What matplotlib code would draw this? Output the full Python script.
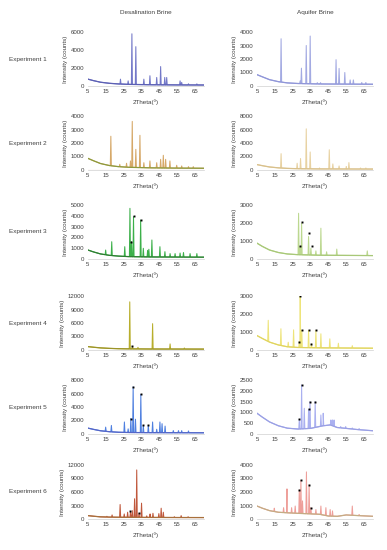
import numpy as np
import matplotlib
matplotlib.use("Agg")
import matplotlib.pyplot as plt

plt.rcParams['font.family'] = ['Liberation Sans', 'DejaVu Sans']

# column titles / row labels
col_titles = ["Desalination Brine", "Aquifer Brine"]
row_labels = ["Experiment 1", "Experiment 2", "Experiment 3",
              "Experiment 4", "Experiment 5", "Experiment 6"]
x_ticks = [5, 15, 25, 35, 45, 55, 65]

# y axis ticks for each panel (row, col)
y_ticks = {
    (0, 0): [0, 2000, 4000, 6000], (0, 1): [0, 1000, 2000, 3000, 4000],
    (1, 0): [0, 1000, 2000, 3000, 4000], (1, 1): [0, 2000, 4000, 6000, 8000],
    (2, 0): [0, 1000, 2000, 3000, 4000, 5000], (2, 1): [0, 1000, 2000, 3000],
    (3, 0): [0, 3000, 6000, 9000, 12000], (3, 1): [0, 1000, 2000, 3000],
    (4, 0): [0, 2000, 4000, 6000, 8000], (4, 1): [0, 500, 1000, 1500, 2000, 2500],
    (5, 0): [0, 3000, 6000, 9000, 12000], (5, 1): [0, 1000, 2000, 3000, 4000],
}

# background (baseline) knots: 2theta, counts
bg_x_std = [5, 8, 12, 17, 22, 28, 40, 55, 70]
bg = {
    (0, 0): (bg_x_std, [760, 600, 420, 300, 230, 180, 140, 120, 110]),
    (0, 1): (bg_x_std, [840, 680, 470, 320, 230, 185, 150, 140, 130]),
    (1, 0): (bg_x_std, [860, 690, 480, 330, 250, 200, 160, 140, 130]),
    (1, 1): (bg_x_std, [800, 640, 450, 320, 240, 190, 160, 150, 140]),
    (2, 0): (bg_x_std, [830, 660, 470, 340, 270, 220, 190, 180, 170]),
    (2, 1): (bg_x_std, [880, 700, 500, 360, 280, 240, 210, 200, 190]),
    (3, 0): (bg_x_std, [750, 620, 470, 360, 290, 250, 220, 210, 200]),
    (3, 1): (bg_x_std, [800, 640, 440, 280, 180, 140, 120, 110, 100]),
    (4, 0): (bg_x_std, [870, 690, 480, 340, 260, 220, 200, 190, 180]),
    (4, 1): ([5, 8, 12, 17, 22, 28, 35, 42, 46, 50, 55, 62, 70],
             [960, 780, 560, 380, 270, 230, 260, 380, 420, 300, 260, 200, 150]),
    (5, 0): (bg_x_std, [750, 620, 480, 420, 390, 370, 350, 330, 320]),
    (5, 1): ([5, 8, 12, 17, 22, 28, 40, 45, 50, 55, 62, 70],
             [960, 800, 620, 500, 460, 420, 350, 220, 200, 300, 250, 200]),
}

# diffraction peaks: 2theta, peak top (counts)
peaks = {
    (0, 0): ([23.2, 27.5, 29.6, 31.8, 36.3, 39.7, 43.5, 45.7, 48.0, 49.1, 56.6, 57.5, 61.3, 66.0],
             [760, 570, 5800, 4370, 760, 1140, 950, 2160, 950, 950, 570, 400, 250, 240]),
    (0, 1): ([18.5, 29.2, 29.9, 32.6, 34.8, 38.8, 40.6, 49.3, 51.0, 54.2, 57.2, 59.0, 63.7, 66.0],
             [3500, 380, 1320, 3000, 3700, 250, 250, 1950, 1300, 1000, 450, 450, 260, 260]),
    (1, 0): ([17.8, 22.8, 26.6, 28.8, 29.8, 31.8, 34.1, 36.3, 39.7, 43.5, 45.7, 47.2, 48.5, 50.9,
              54.7, 57.5, 61.3, 64.0],
             [2500, 420, 500, 670, 3600, 1530, 2570, 540, 670, 540, 790, 1090, 790, 670,
              350, 300, 250, 250]),
    (1, 1): ([18.5, 27.5, 29.4, 32.6, 34.8, 40.0, 45.5, 47.5, 51.0, 55.0, 56.5, 63.0, 66.0],
             [2420, 1000, 1700, 6100, 2670, 300, 3000, 900, 600, 500, 1100, 300, 300]),
    (2, 0): ([14.9, 18.3, 25.6, 28.5, 29.4, 30.5, 34.5, 36.0, 38.4, 39.1, 40.8, 45.3, 48.1, 51.0,
              53.8, 56.6, 58.5, 62.2, 66.0],
             [830, 1600, 1140, 4690, 1600, 3920, 3600, 990, 800, 900, 1760, 1140, 680, 500,
              500, 550, 600, 500, 500]),
    (2, 1): ([28.3, 29.2, 30.0, 33.9, 35.2, 38.0, 40.8, 44.0, 49.7, 66.8],
             [2540, 700, 1990, 1250, 600, 450, 1710, 400, 550, 450]),
    (3, 0): ([28.4, 29.9, 33.0, 41.2, 51.0, 59.0],
             [10700, 800, 600, 5850, 1350, 450]),
    (3, 1): ([11.3, 18.4, 22.5, 25.5, 28.7, 29.2, 30.1, 33.9, 35.5, 38.0, 40.8, 45.8, 50.6, 58.4],
             [1650, 1180, 430, 1120, 470, 3000, 1100, 1090, 340, 1090, 900, 620, 375, 240]),
    (4, 0): ([14.9, 18.1, 25.4, 27.5, 29.0, 30.3, 31.6, 34.6, 36.0, 38.8, 41.2, 43.5, 45.3, 46.5,
              48.2, 52.8, 55.7, 57.5, 61.3],
             [1020, 1270, 1780, 760, 2290, 6980, 2190, 5860, 1270, 1270, 1780, 700, 1780, 1530,
              1170, 510, 500, 500, 450]),
    (4, 1): ([28.7, 30.0, 31.5, 33.9, 34.7, 37.6, 40.8, 42.1, 46.4, 47.3, 48.2, 51.9, 54.7, 58.4, 62.2],
             [680, 2270, 1190, 1140, 1500, 1500, 880, 960, 650, 650, 650, 340, 340, 280, 250]),
    (5, 0): ([15.6, 18.5, 23.0, 25.3, 27.2, 28.8, 29.8, 31.1, 32.3, 33.6, 35.0, 37.9, 39.8, 41.4,
              44.7, 46.0, 47.2, 53.4, 57.2, 61.1],
             [600, 900, 3220, 1120, 1500, 1500, 1870, 4500, 10900, 1270, 3520, 700, 1120, 1270,
              1200, 2400, 1500, 500, 750, 500]),
    (5, 1): ([14.7, 19.9, 21.8, 24.4, 26.4, 28.7, 29.6, 30.5, 32.7, 34.2, 35.2, 38.0, 40.8, 43.6,
              46.0, 47.3, 58.4, 62.2],
             [800, 840, 2230, 840, 960, 2150, 2860, 1340, 3490, 2530, 840, 700, 960, 840,
              700, 600, 960, 330]),
}

# phase markers (black symbols above selected peaks)
marks = {
    (2, 0): ([28.9, 30.5, 34.5], [1600, 4000, 3600]),
    (2, 1): ([29.0, 30.2, 34.2, 35.6], [700, 2050, 1440, 700]),
    (3, 0): ([29.9], [900]),
    (3, 1): ([28.7, 29.2, 30.3, 33.9, 35.5, 38.0], [470, 3000, 1100, 1090, 340, 1090]),
    (4, 0): ([29.0, 30.3, 34.6, 36.0, 38.8], [2290, 7000, 5860, 1300, 1300]),
    (4, 1): ([28.7, 30.0, 34.0, 34.7, 37.6], [680, 2270, 1140, 1500, 1500]),
    (5, 0): ([28.6, 33.6], [1700, 1270]),
    (5, 1): ([28.7, 29.6, 34.2, 35.2], [2150, 2900, 2530, 840]),
}

# (peak colour, baseline colour)
colors = {
    (0, 0): ('#7378c8', '#5c60b4'), (0, 1): ('#a3aae2', '#9096d8'),
    (1, 0): ('#d6a868', '#8c9a3c'), (1, 1): ('#e8d2a2', '#d8c08c'),
    (2, 0): ('#3cb04a', '#2e7d32'), (2, 1): ('#bcd890', '#a8c878'),
    (3, 0): ('#b8ae2c', '#9c9428'), (3, 1): ('#eee47a', '#e0d460'),
    (4, 0): ('#4f80e0', '#5566c8'), (4, 1): ('#aab0f0', '#9aa0e4'),
    (5, 0): ('#c0583c', '#a8703c'), (5, 1): ('#ee9f9a', '#c4ac84'),
}

W, H = 387, 550
fig = plt.figure(figsize=(W / 100, H / 100), dpi=100)
lefts = [88, 257]
width = 116
tops = [32, 116, 205, 296, 380, 465]
height = 54


def trace(key):
    bx, by = bg[key]
    px, py = peaks[key]
    xs, ys = list(bx), list(by)
    for x, h in zip(px, py):
        for dx, top in ((-0.3, False), (0.0, True), (0.3, False)):
            xs.append(x + dx)
            ys.append(h if top else float(np.interp(x + dx, bx, by)))
    order = np.argsort(xs, kind='stable')
    return np.array(xs)[order], np.array(ys)[order]


for r in range(6):
    for c in range(2):
        key = (r, c)
        ax = fig.add_axes([lefts[c] / W, 1 - (tops[r] + height) / H, width / W, height / H])
        xs, ys = trace(key)
        pc, bc = colors[key]
        ax.plot(xs, ys, color=pc, lw=0.75)
        bx, by = bg[key]
        ax.plot(bx, by, color=bc, lw=0.9)
        if key == (1, 0):
            ax.axhline(0, color='#f4b4b4', lw=0.8)
        if key in marks:
            mx, my = marks[key]
            ax.plot(mx, my, 's', color='black', ms=1.4, mew=0)
        yt = y_ticks[key]
        ax.set_xlim(5, 70)
        ax.set_ylim(yt[0], yt[-1])
        ax.set_xticks(x_ticks)
        ax.set_yticks(yt)
        ax.tick_params(length=0, labelsize=4.4, pad=2.5, colors='#404040')
        for s in ['top', 'right', 'left']:
            ax.spines[s].set_visible(False)
        ax.spines['bottom'].set_color('#d0d0d0')
        ax.spines['bottom'].set_linewidth(0.5)
        ax.set_xlabel('2Theta(º)', fontsize=4.5, labelpad=3.5, color='#404040')
        ax.set_ylabel('Intensity (counts)', fontsize=4.5, labelpad=2, color='#404040')
        if r == 0:
            ax.set_title(col_titles[c], fontsize=4.6, pad=13, color='#404040')
        if c == 0:
            fig.text(28 / W, 1 - (tops[r] + height / 2) / H, row_labels[r],
                     fontsize=4.6, ha='center', va='center', color='#404040')

fig.savefig('out.png', dpi=100)
